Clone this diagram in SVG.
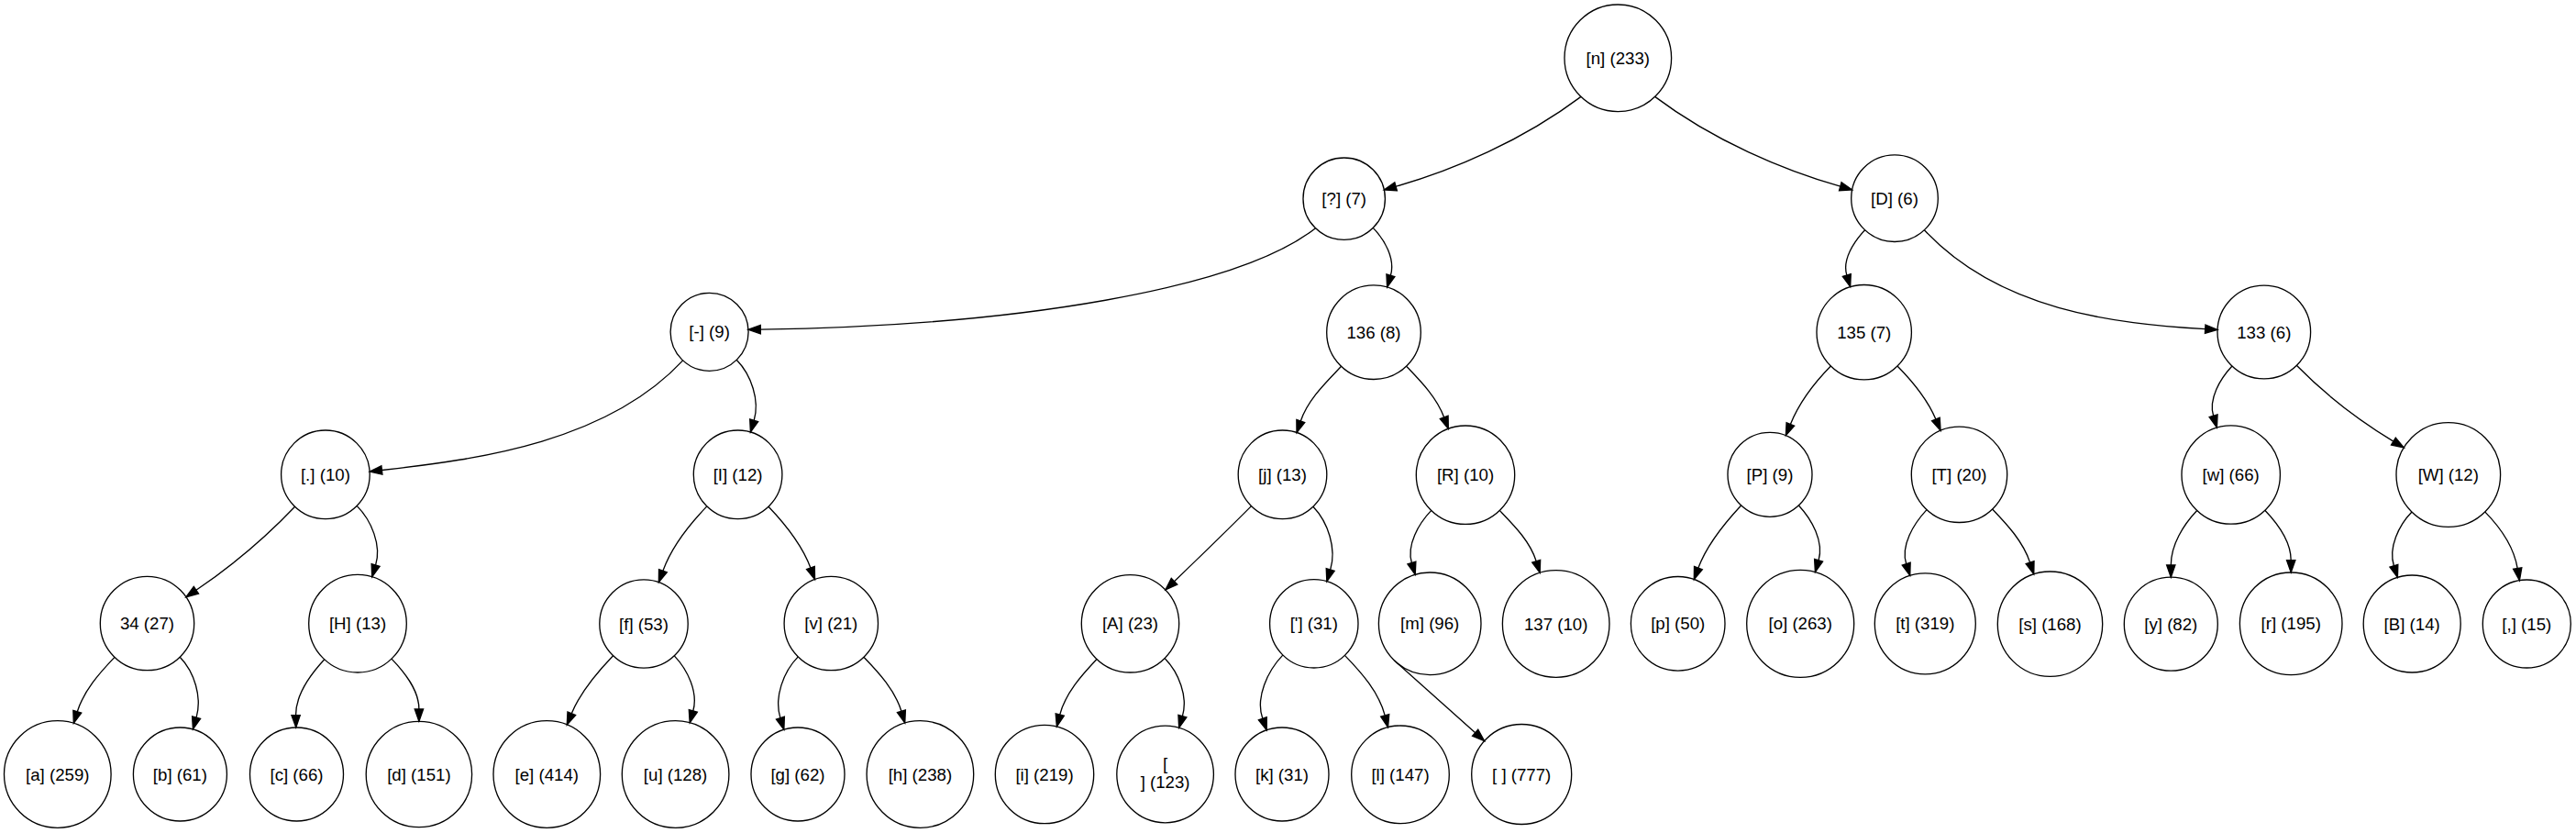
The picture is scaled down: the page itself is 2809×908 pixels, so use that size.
<svg xmlns="http://www.w3.org/2000/svg" width="2809" height="908" viewBox="0 0 2809 908">
<defs>
<style>
.node circle{fill:none;stroke:#000;stroke-width:1.33}
.node text{font-family:"Liberation Sans",Arial,sans-serif;font-size:18.67px;text-anchor:middle;fill:#000}
.edge{fill:none;stroke:#000;stroke-width:1.33;marker-end:url(#ah)}
</style>
<marker id="ah" viewBox="0 0 13.33 9.34" refX="0" refY="4.67" markerWidth="13.33" markerHeight="9.34" markerUnits="userSpaceOnUse" orient="auto" overflow="visible">
<path d="M0,0 L13.33,4.67 L0,9.34 Z" fill="#000" stroke="#000" stroke-width="1.33"/>
</marker>
</defs>
<rect width="2809" height="908" fill="#fff"/>
<g id="edges">
<path class="edge" d="M1724,105.4 C1660,153.4 1584.6,185.6 1522.1,203.3"/>
<path class="edge" d="M1804.6,105.4 C1868.6,153.4 1944.3,185.5 2006.8,203.2"/>
<path class="edge" d="M1434.5,248.7 C1350,315 1110,355 829.3,359.1"/>
<path class="edge" d="M1497.2,248.4 C1510.2,261.5 1521.6,282.6 1516.4,300.2"/>
<path class="edge" d="M2033.6,250.7 C2021.5,263.6 2008.7,283 2013.8,299.9"/>
<path class="edge" d="M2098.4,250.7 C2180,338.3 2304.9,352.7 2404.7,358.7"/>
<path class="edge" d="M744.7,392.9 C663.1,480.5 525.9,500.4 416.4,512.5"/>
<path class="edge" d="M803.2,392.3 C819.2,408.7 828.7,436.4 822.2,458.3"/>
<path class="edge" d="M1462.6,399.3 C1445.5,417.3 1426.3,435.5 1418.3,459"/>
<path class="edge" d="M1533.6,399.2 C1549.6,415.9 1566.7,433.3 1574.7,454.9"/>
<path class="edge" d="M1996.4,399 C1978.3,417.3 1962.1,438.6 1952.4,462.4"/>
<path class="edge" d="M2069,399 C2085.8,416 2101.6,435 2110.9,457"/>
<path class="edge" d="M2434,399 C2420.8,413.1 2408.1,434.7 2413.6,453.2"/>
<path class="edge" d="M2504.3,398.3 C2535.5,430.2 2571.7,457.9 2609.9,481.1"/>
<path class="edge" d="M321.6,552.3 C289.2,586.3 252.8,617 213.9,643.3"/>
<path class="edge" d="M389.1,551.4 C405.1,567.4 416.2,594.4 409.6,616"/>
<path class="edge" d="M770.9,551.9 C751.1,572.3 732.6,595.5 722.9,622.2"/>
<path class="edge" d="M838,552.2 C856.7,571.7 874.5,593.7 883.9,619"/>
<path class="edge" d="M1364.5,551.6 C1336.9,579.4 1308.8,606.5 1280.5,633.7"/>
<path class="edge" d="M1431.9,552.2 C1448.4,569.4 1457.6,598.2 1450.7,621"/>
<path class="edge" d="M1560.8,556.4 C1546.8,571 1533.6,594.1 1539.4,613.5"/>
<path class="edge" d="M1635.2,556.4 C1651,572.8 1668.4,590 1675.2,611.7"/>
<path class="edge" d="M1898.6,551 C1879.8,571.1 1861.4,593.3 1851.9,619.1"/>
<path class="edge" d="M1961.4,551 C1975.9,566.5 1989,590.4 1983.1,610.8"/>
<path class="edge" d="M2101,555.6 C2086.6,571.1 2072.3,594.6 2078.7,614.7"/>
<path class="edge" d="M2172.6,555 C2189,572.1 2206.2,590.6 2213.6,613.1"/>
<path class="edge" d="M2395.7,556.5 C2380.6,572.4 2367.3,594 2367.3,615.9"/>
<path class="edge" d="M2469.8,556.3 C2484,571.1 2498.2,590.2 2498.2,610.7"/>
<path class="edge" d="M2630,558 C2615.6,572.7 2604.2,597 2610.4,616.7"/>
<path class="edge" d="M2709.7,557.9 C2726.3,574.8 2741.3,596.2 2745.2,619.6"/>
<path class="edge" d="M125,716.4 C108.4,733.7 91.5,752.8 84.3,775.7"/>
<path class="edge" d="M196.2,716.2 C212.1,732.5 220.4,760.2 214.1,782.1"/>
<path class="edge" d="M353.8,718.8 C338.3,735.5 322.3,756.9 322.6,779.7"/>
<path class="edge" d="M427,718.1 C441.4,733.1 456.9,752.2 456.9,773"/>
<path class="edge" d="M668.6,714.7 C650.7,733.3 633.1,753.7 623.3,777.7"/>
<path class="edge" d="M735.3,714.9 C749.9,730.2 761.5,754.6 755.8,775"/>
<path class="edge" d="M870.3,715.9 C854,732.4 844,760.4 850.9,782.6"/>
<path class="edge" d="M941.9,716.3 C958.5,733.5 976,752.4 982.9,775.3"/>
<path class="edge" d="M1196,718.5 C1179.3,736.2 1161.8,755.6 1155.7,779.1"/>
<path class="edge" d="M1270,717.5 C1285.5,733.1 1295.6,759.5 1289.4,780.6"/>
<path class="edge" d="M1398.8,714.1 C1382.1,731.5 1368.8,760.5 1376.8,783.3"/>
<path class="edge" d="M1466.4,714.4 C1484.7,733.3 1503.6,754.5 1510.2,779.9"/>
<path class="edge" d="M1520.2,719.8 L1608.7,798.7"/>
</g>
<g id="nodes">
<g id="node-n233" class="node"><circle cx="1764.3" cy="63.3" r="58.3"/><text x="1764.3" y="69.8">[n] (233)</text></g>
<g id="node-q7" class="node"><circle cx="1465.7" cy="216.7" r="44.7"/><text x="1465.7" y="223.2">[?] (7)</text></g>
<g id="node-D6" class="node"><circle cx="2066" cy="216.2" r="47.3"/><text x="2066" y="222.7">[D] (6)</text></g>
<g id="node-dash9" class="node"><circle cx="773.6" cy="361.8" r="42.5"/><text x="773.6" y="368.3">[-] (9)</text></g>
<g id="node-136" class="node"><circle cx="1498" cy="362.2" r="51.3"/><text x="1498" y="368.7">136 (8)</text></g>
<g id="node-135" class="node"><circle cx="2032.7" cy="362.2" r="51.7"/><text x="2032.7" y="368.7">135 (7)</text></g>
<g id="node-133" class="node"><circle cx="2468.8" cy="362" r="50.8"/><text x="2468.8" y="368.5">133 (6)</text></g>
<g id="node-dot10" class="node"><circle cx="354.9" cy="517.3" r="48.3"/><text x="354.9" y="523.8">[.] (10)</text></g>
<g id="node-I12" class="node"><circle cx="804.6" cy="517.3" r="48.3"/><text x="804.6" y="523.8">[I] (12)</text></g>
<g id="node-j13" class="node"><circle cx="1398.5" cy="517.3" r="48.3"/><text x="1398.5" y="523.8">[j] (13)</text></g>
<g id="node-R10" class="node"><circle cx="1598" cy="517.7" r="53.7"/><text x="1598" y="524.2">[R] (10)</text></g>
<g id="node-P9" class="node"><circle cx="1930" cy="517.3" r="46"/><text x="1930" y="523.8">[P] (9)</text></g>
<g id="node-T20" class="node"><circle cx="2136.5" cy="517.3" r="52.2"/><text x="2136.5" y="523.8">[T] (20)</text></g>
<g id="node-w66" class="node"><circle cx="2432.7" cy="517.5" r="53.7"/><text x="2432.7" y="524">[w] (66)</text></g>
<g id="node-W12" class="node"><circle cx="2669.8" cy="517.5" r="56.8"/><text x="2669.8" y="524">[W] (12)</text></g>
<g id="node-34" class="node"><circle cx="160.5" cy="679.5" r="51.2"/><text x="160.5" y="686">34 (27)</text></g>
<g id="node-H13" class="node"><circle cx="390" cy="679.7" r="53.3"/><text x="390" y="686.2">[H] (13)</text></g>
<g id="node-f53" class="node"><circle cx="702" cy="680" r="48.2"/><text x="702" y="686.5">[f] (53)</text></g>
<g id="node-v21" class="node"><circle cx="906.3" cy="679.5" r="51.2"/><text x="906.3" y="686">[v] (21)</text></g>
<g id="node-A23" class="node"><circle cx="1232.5" cy="679.8" r="53.2"/><text x="1232.5" y="686.3">[A] (23)</text></g>
<g id="node-apos31" class="node"><circle cx="1432.8" cy="679.8" r="48.2"/><text x="1432.8" y="686.3">['] (31)</text></g>
<g id="node-m96" class="node"><circle cx="1559.2" cy="679.8" r="55.8"/><text x="1559.2" y="686.3">[m] (96)</text></g>
<g id="node-137" class="node"><circle cx="1696.7" cy="680" r="58.3"/><text x="1696.7" y="686.5">137 (10)</text></g>
<g id="node-p50" class="node"><circle cx="1829.7" cy="679.8" r="51.3"/><text x="1829.7" y="686.3">[p] (50)</text></g>
<g id="node-o263" class="node"><circle cx="1963.2" cy="679.8" r="58.5"/><text x="1963.2" y="686.3">[o] (263)</text></g>
<g id="node-t319" class="node"><circle cx="2099.3" cy="679.8" r="55"/><text x="2099.3" y="686.3">[t] (319)</text></g>
<g id="node-s168" class="node"><circle cx="2235.5" cy="680.2" r="57.2"/><text x="2235.5" y="686.7">[s] (168)</text></g>
<g id="node-y82" class="node"><circle cx="2367.3" cy="680.2" r="51"/><text x="2367.3" y="686.7">[y] (82)</text></g>
<g id="node-r195" class="node"><circle cx="2498.2" cy="679.8" r="55.8"/><text x="2498.2" y="686.3">[r] (195)</text></g>
<g id="node-B14" class="node"><circle cx="2630.2" cy="680" r="53"/><text x="2630.2" y="686.5">[B] (14)</text></g>
<g id="node-comma15" class="node"><circle cx="2755.3" cy="680" r="48"/><text x="2755.3" y="686.5">[,] (15)</text></g>
<g id="node-a259" class="node"><circle cx="62.8" cy="844" r="58.3"/><text x="62.8" y="850.5">[a] (259)</text></g>
<g id="node-b61" class="node"><circle cx="196.4" cy="844" r="51"/><text x="196.4" y="850.5">[b] (61)</text></g>
<g id="node-c66" class="node"><circle cx="323.5" cy="844" r="51"/><text x="323.5" y="850.5">[c] (66)</text></g>
<g id="node-d151" class="node"><circle cx="456.9" cy="844" r="57.7"/><text x="456.9" y="850.5">[d] (151)</text></g>
<g id="node-e414" class="node"><circle cx="596.3" cy="844" r="58.3"/><text x="596.3" y="850.5">[e] (414)</text></g>
<g id="node-u128" class="node"><circle cx="736.6" cy="844" r="58.3"/><text x="736.6" y="850.5">[u] (128)</text></g>
<g id="node-g62" class="node"><circle cx="870" cy="844" r="51"/><text x="870" y="850.5">[g] (62)</text></g>
<g id="node-h238" class="node"><circle cx="1003.4" cy="844" r="58.3"/><text x="1003.4" y="850.5">[h] (238)</text></g>
<g id="node-i219" class="node"><circle cx="1139" cy="844" r="53.7"/><text x="1139" y="850.5">[i] (219)</text></g>
<g id="node-nl123" class="node"><circle cx="1270.6" cy="844" r="52.8"/><text x="1270.6" y="839">[</text><text x="1270.6" y="858.5">] (123)</text></g>
<g id="node-k31" class="node"><circle cx="1398" cy="844" r="51"/><text x="1398" y="850.5">[k] (31)</text></g>
<g id="node-l147" class="node"><circle cx="1527" cy="844.3" r="53.3"/><text x="1527" y="850.8">[l] (147)</text></g>
<g id="node-sp777" class="node"><circle cx="1659.2" cy="844" r="54.5"/><text x="1659.2" y="850.5">[ ] (777)</text></g>
</g>
</svg>
